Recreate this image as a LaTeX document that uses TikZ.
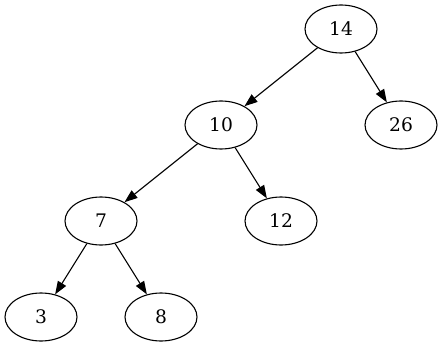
\documentclass[tikz,border=0pt]{standalone}
\usepackage{fontspec}
\setmainfont{DejaVu Serif}
\usetikzlibrary{shapes.geometric,arrows.meta}
\begin{document}
\begin{tikzpicture}[x=1pt,y=-1pt,
  treenode/.style={ellipse,draw,line width=1.1pt,minimum width=72pt,minimum height=48pt,inner sep=0pt,font=\fontsize{18.67}{22}\selectfont},
  edge/.style={draw,line width=1.1pt,-{Triangle[length=13pt,width=9.5pt]}}]
\useasboundingbox (0,0) rectangle (443,347);
\node[treenode] (n14) at (341,29) {14};
\node[treenode] (n10) at (221,125) {10};
\node[treenode] (n26) at (401,125) {26};
\node[treenode] (n7) at (101,221) {7};
\node[treenode] (n12) at (281,221) {12};
\node[treenode] (n3) at (41,317) {3};
\node[treenode] (n8) at (161,317) {8};
\draw[edge] (n14) -- (n10);
\draw[edge] (n14) -- (n26);
\draw[edge] (n10) -- (n7);
\draw[edge] (n10) -- (n12);
\draw[edge] (n7) -- (n3);
\draw[edge] (n7) -- (n8);
\end{tikzpicture}
\end{document}
